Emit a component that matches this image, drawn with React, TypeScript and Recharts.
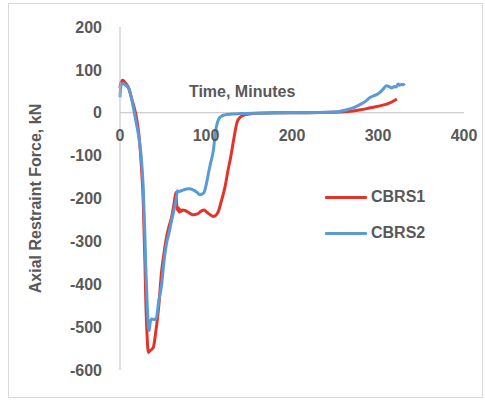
import React from "react";
import { LineChart, Line, XAxis, YAxis, ReferenceLine, ReferenceDot, Legend } from "recharts";

const xTicks = [0, 100, 200, 300, 400];
const yTicks = [200, 100, 0, -100, -200, -300, -400, -500, -600];

const cbrs1Time = [0, 1, 3, 6, 10, 14, 18, 21, 23, 25, 27, 29, 30, 31.5, 33, 35, 38.8, 41, 44.6, 48.5, 51, 54, 57, 60, 63, 65, 66, 67, 68, 69, 70, 71, 73, 75.6, 80, 85, 90, 94, 97.7, 101, 105, 108.5, 111, 114, 118, 122, 126, 128.7, 132, 136, 140, 145, 150, 160, 180, 220, 250, 265, 280, 290, 300, 310, 316, 322];
const cbrs1Force = [58, 70, 76, 70, 58, 30, 0, -35, -73, -130, -205, -350, -438, -520, -559, -555, -547, -520, -461, -368, -330, -291, -265, -244, -210, -186, -215, -228, -222, -232, -226, -230, -227, -228, -233, -238, -236, -230, -227, -232, -238, -242, -240, -232, -205, -174, -130, -104, -65, -23, -10, -5, -3, -1, 0, 0, 1, 3, 7, 11, 15, 20, 25, 32];

const cbrs2Time = [0, 1, 3, 6, 10, 15.5, 19, 22.5, 25, 27, 29, 30, 31.5, 33, 34, 35, 36.8, 39, 41.9, 45, 48.5, 51, 54, 57, 60, 63, 65.5, 66.7, 68, 71, 74, 77.5, 81, 85, 89, 93, 95, 97.7, 100, 102.7, 105, 108.5, 111, 113, 115, 118, 122, 130, 140, 160, 200, 240, 255, 267, 273, 279, 285, 291, 297, 302, 306, 310, 313, 316, 319, 321, 323.5, 325, 327, 329, 331];
const cbrs2Force = [36, 62, 68, 65, 58, 12, -25, -65, -110, -174, -290, -361, -440, -500, -508, -490, -481, -482, -481, -440, -400, -350, -306, -280, -252, -225, -200, -182, -184, -182, -180, -178, -177, -180, -185, -191, -190, -186, -170, -143, -120, -89, -45, -25, -14, -8, -5, -3, -2, -1, 0, 1, 3, 9, 13, 19, 26, 36, 41, 47, 55, 63, 61, 58, 61, 60, 67, 64, 66, 65, 68];

const cbrs1Data = cbrs1Time.map((t, i) => ({ t, v: cbrs1Force[i] }));
const cbrs2Data = cbrs2Time.map((t, i) => ({ t, v: cbrs2Force[i] }));

const RED = "#E3342A";
const BLUE = "#5B9BD5";
const TEXT = "#595959";
const FONT = "'Liberation Sans', Arial, sans-serif";

const renderLegend = (props: any) => {
  const payload = props.payload || [];
  return (
    <div style={{ fontFamily: FONT }}>
      {payload.map((p: any) => (
        <div key={p.value} style={{ display: "flex", alignItems: "center", height: 36 }}>
          <div style={{ width: 42, height: 3, background: p.color, marginRight: 4, borderRadius: 1 }} />
          <span style={{ color: TEXT, fontSize: 16, fontWeight: "bold" }}>{p.value}</span>
        </div>
      ))}
    </div>
  );
};

export default function App() {
  return (
    <div style={{ position: "absolute", left: 0, top: 0, width: 485, height: 400, background: "#fff" }}>
      <div style={{ position: "absolute", left: 8, top: 3, width: 475, height: 395, border: "1px solid #d9d9d9", boxSizing: "border-box" }} />
      <LineChart width={485} height={400} margin={{ top: 27, right: 21, bottom: 30, left: 60 }} style={{ position: "absolute", left: 0, top: 0 }}>
        <XAxis type="number" dataKey="t" domain={[0, 400]} ticks={xTicks} hide allowDuplicatedCategory={false} />
        <YAxis
          type="number"
          domain={[-600, 200]}
          ticks={yTicks}
          width={60}
          axisLine={{ stroke: "#bfbfbf", strokeWidth: 1 }}
          tickLine={false}
          tickMargin={12}
          tick={{ fill: TEXT, fontSize: 16, fontWeight: "bold", fontFamily: FONT }}
          interval={0}
          label={{
            content: (p: any) => {
              const vb = p.viewBox || { x: 60, y: 27, height: 343 };
              const cx = vb.x - 25;
              const cy = vb.y + vb.height / 2;
              return (
                <text x={cx} y={cy} transform={`rotate(-90, ${cx}, ${cy})`} textAnchor="middle" dominantBaseline="central" fill={TEXT} fontSize={16} fontWeight="bold" fontFamily={FONT}>
                  Axial Restraint Force, kN
                </text>
              );
            },
          }}
        />
        <ReferenceLine y={0} stroke="#bfbfbf" strokeWidth={1} ifOverflow="extendDomain" />
        {xTicks.map((t) => (
          <ReferenceDot
            key={t}
            x={t}
            y={0}
            r={0}
            fill="none"
            stroke="none"
            label={{ value: String(t), position: "bottom", offset: 17, fill: TEXT, fontSize: 16, fontWeight: "bold", fontFamily: FONT }}
          />
        ))}
        <ReferenceDot
          x={142}
          y={49}
          r={0}
          fill="none"
          stroke="none"
          label={{ value: "Time, Minutes", position: "center", fill: TEXT, fontSize: 16, fontWeight: "bold", fontFamily: FONT }}
        />
        <Line data={cbrs1Data} dataKey="v" name="CBRS1" type="monotone" stroke={RED} strokeWidth={3} dot={false} isAnimationActive={false} />
        <Line data={cbrs2Data} dataKey="v" name="CBRS2" type="monotone" stroke={BLUE} strokeWidth={3} dot={false} isAnimationActive={false} />
        <Legend
          layout="vertical"
          verticalAlign="middle"
          align="center"
          content={renderLegend}
          wrapperStyle={{ left: 325, top: 179, width: 120 }}
        />
      </LineChart>
    </div>
  );
}
